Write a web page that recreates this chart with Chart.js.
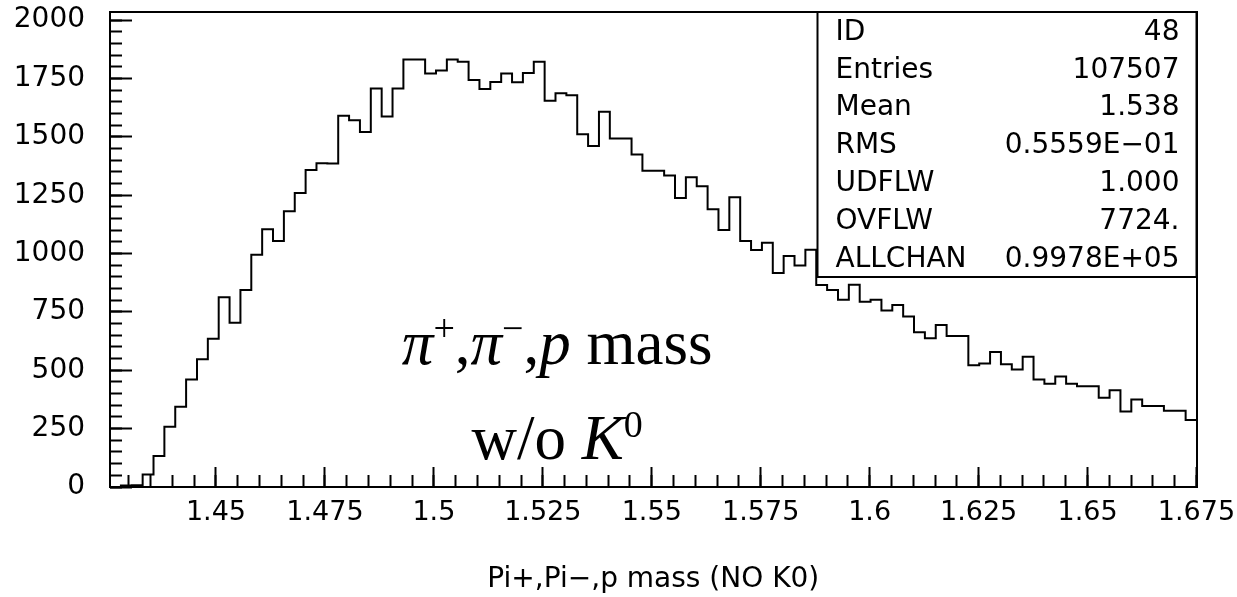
<!DOCTYPE html>
<html>
<head>
<meta charset="utf-8">
<title>Pi+,Pi-,p mass (NO K0)</title>
<script src="https://cdn.jsdelivr.net/npm/chart.js@4.4.1/dist/chart.umd.min.js"></script>
<style>
  html, body { margin: 0; padding: 0; background: #ffffff; }
  #wrap { width: 1237px; height: 597px; position: relative; }
  canvas { display: block; }
</style>
</head>
<body>
<div id="wrap"><canvas id="hist" width="1237" height="597"></canvas></div>
<script>
// Histogram 48: invariant mass of pi+ pi- p, K0 candidates removed
const BIN_LOW = 1.4257;
const BIN_HIGH = 1.675;
const COUNTS = [
     0,    6,    7,   54,  133,  258,  344,  461,  547,  635,
   813,  704,  844,  995, 1104, 1054, 1181, 1260, 1358, 1387,
  1386, 1590, 1571, 1521, 1707, 1587, 1707, 1832, 1832, 1772,
  1784, 1832, 1822, 1744, 1705, 1735, 1772, 1734, 1774, 1822,
  1655, 1687, 1678, 1511, 1461, 1608, 1493, 1493, 1424, 1355,
  1355, 1335, 1238, 1327, 1288, 1190, 1101, 1241, 1054, 1015,
  1046,  917,  990,  949, 1016,  865,  844,  802,  867,  794,
   802,  756,  780,  730,  663,  637,  694,  647,  647,  522,
   529,  578,  526,  503,  558,  461,  442,  473,  442,  432,
   432,  382,  415,  323,  375,  347,  347,  327,  327,  287
];
const X_LABEL_TICKS = [1.45, 1.475, 1.5, 1.525, 1.55, 1.575, 1.6, 1.625, 1.65, 1.675];
const Y_LABEL_TICKS = [0, 250, 500, 750, 1000, 1250, 1500, 1750, 2000];
const X_MINOR_STEP = 0.005;
const Y_MINOR_STEP = 50;
const Y_TOP = 2035;

const X_TITLE = 'Pi+,Pi\u2212,p mass (NO K0)';
const STAT_NAMES  = ['ID', 'Entries', 'Mean', 'RMS', 'UDFLW', 'OVFLW', 'ALLCHAN'];
const STAT_VALUES = ['48', '107507', '1.538', '0.5559E\u221201', '1.000', '7724.', '0.9978E+05'];

// Caption lines: runs of text with italic / superscript flags
const CAPTION_LINES = [
  [{ text: '\u03c0', italic: true }, { text: '+', sup: true }, { text: ',' },
   { text: '\u03c0', italic: true }, { text: '\u2212', sup: true }, { text: ',' },
   { text: 'p', italic: true }, { text: ' mass' }],
  [{ text: 'w/o ' }, { text: 'K', italic: true }, { text: '0', sup: true }]
];
const CAPTION_X = 1.5283;          // centre of the caption, in mass units
const CAPTION_Y = [527, 118];      // baselines, in entries

const AXIS_FONT = "'DejaVu Sans', sans-serif";
const INK = '#000000';
const NO_INK = 'rgba(0,0,0,0)';

// Step outline: one point per bin low edge, plus the upper edge of the last bin
const binWidth = (BIN_HIGH - BIN_LOW) / COUNTS.length;
const outline = COUNTS.map((c, i) => ({ x: BIN_LOW + i * binWidth, y: c }));
outline.push({ x: BIN_HIGH, y: COUNTS[COUNTS.length - 1] });

const setTicks = (values) => (scale) => { scale.ticks = values.map(v => ({ value: v })); };

// Inward-pointing tick marks, laid along the frame edges
const tickAxis = (axis, position, length, extra) => Object.assign({
  type: 'linear', axis: axis, position: position,
  ticks: { display: false, includeBounds: false },
  grid: { display: true, drawOnChartArea: false, drawTicks: true, tickLength: length, tickWidth: 2, tickColor: INK },
  border: { display: false }
}, extra);

const statsBox = {
  id: 'statsBox',
  afterDatasetsDraw(chart) {
    const { ctx, chartArea } = chart;
    const w = 379, h = 265;
    const x0 = chartArea.right - w, y0 = chartArea.top;
    ctx.save();
    ctx.fillStyle = '#ffffff';
    ctx.fillRect(x0, y0, w, h);
    ctx.strokeStyle = INK;
    ctx.lineWidth = 2;
    ctx.strokeRect(x0, y0, w, h);
    ctx.fillStyle = INK;
    ctx.font = '28px ' + AXIS_FONT;
    ctx.textBaseline = 'middle';
    const rowH = h / STAT_NAMES.length;
    STAT_NAMES.forEach((name, i) => {
      const cy = y0 + rowH * (i + 0.5) + 1.5;
      ctx.textAlign = 'left';
      ctx.fillText(name, x0 + 18, cy);
      ctx.textAlign = 'right';
      ctx.fillText(STAT_VALUES[i], x0 + w - 17, cy);
    });
    ctx.restore();
  }
};

const caption = {
  id: 'caption',
  afterDatasetsDraw(chart) {
    const { ctx, scales } = chart;
    const size = 63;
    const fontOf = (run) => (run.italic ? 'italic ' : '') + (run.sup ? Math.round(size * 0.6) : size) + "px 'Liberation Serif', 'Times New Roman', serif";
    ctx.save();
    ctx.fillStyle = INK;
    ctx.textBaseline = 'alphabetic';
    ctx.textAlign = 'left';
    CAPTION_LINES.forEach((runs, li) => {
      let total = 0;
      runs.forEach(r => { ctx.font = fontOf(r); total += ctx.measureText(r.text).width; });
      let x = scales.x.getPixelForValue(CAPTION_X) - total / 2;
      const base = scales.y.getPixelForValue(CAPTION_Y[li]);
      runs.forEach(r => {
        ctx.font = fontOf(r);
        ctx.fillText(r.text, x, r.sup ? base - size * 0.36 : base);
        x += ctx.measureText(r.text).width;
      });
    });
    ctx.restore();
  }
};

new Chart(document.getElementById('hist'), {
  type: 'line',
  data: {
    datasets: [{
      data: outline,
      xAxisID: 'x', yAxisID: 'y',
      stepped: 'before',
      borderColor: INK,
      borderWidth: 2,
      pointRadius: 0,
      fill: false,
      tension: 0
    }]
  },
  options: {
    responsive: false,
    animation: false,
    devicePixelRatio: 1,
    parsing: false,
    layout: { padding: { left: 13.8, right: 40.5, top: 12, bottom: 0 } },
    plugins: { legend: { display: false }, tooltip: { enabled: false } },
    scales: {
      x: {
        type: 'linear', position: 'bottom', min: BIN_LOW, max: BIN_HIGH,
        afterBuildTicks: setTicks(X_LABEL_TICKS),
        ticks: { autoSkip: false, maxRotation: 0, padding: 0, color: INK,
                 font: { family: AXIS_FONT, size: 27 }, callback: v => String(v) },
        grid: { display: true, drawOnChartArea: false, drawTicks: true, tickLength: 10, tickColor: NO_INK },
        border: { display: true, color: INK, width: 2 },
        title: { display: true, text: X_TITLE, color: INK,
                 font: { family: AXIS_FONT, size: 28 }, padding: { top: 33.8, bottom: 0.2 } }
      },
      y: {
        type: 'linear', position: 'left', min: 0, max: Y_TOP,
        afterBuildTicks: setTicks(Y_LABEL_TICKS),
        ticks: { autoSkip: false, padding: 0, color: INK,
                 font: { family: AXIS_FONT, size: 28, lineHeight: 0.8 }, callback: v => String(v) },
        grid: { display: true, drawOnChartArea: false, drawTicks: true, tickLength: 25, tickColor: NO_INK },
        border: { display: true, color: INK, width: 2 }
      },
      xMinor: tickAxis('x', { y: 0 }, -12, { min: BIN_LOW, max: BIN_HIGH,
        ticks: { display: false, includeBounds: false, stepSize: X_MINOR_STEP } }),
      xMajor: tickAxis('x', { y: 0 }, -20, { min: BIN_LOW, max: BIN_HIGH,
        afterBuildTicks: setTicks(X_LABEL_TICKS) }),
      yMinor: tickAxis('y', { x: BIN_LOW }, -12, { min: 0, max: Y_TOP,
        ticks: { display: false, includeBounds: false, stepSize: Y_MINOR_STEP } }),
      yMajor: tickAxis('y', { x: BIN_LOW }, -22, { min: 0, max: Y_TOP,
        afterBuildTicks: setTicks(Y_LABEL_TICKS) }),
      xTop: {
        type: 'linear', axis: 'x', position: { y: Y_TOP }, min: BIN_LOW, max: BIN_HIGH,
        ticks: { display: false },
        grid: { display: true, drawOnChartArea: false, drawTicks: false },
        border: { display: true, color: INK, width: 2 }
      },
      yRight: {
        type: 'linear', axis: 'y', position: { x: BIN_HIGH }, min: 0, max: Y_TOP,
        ticks: { display: false },
        grid: { display: true, drawOnChartArea: false, drawTicks: false },
        border: { display: true, color: INK, width: 2 }
      }
    }
  },
  plugins: [statsBox, caption]
});
</script>
</body>
</html>
